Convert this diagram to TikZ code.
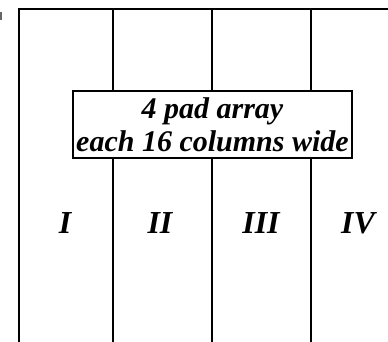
\documentclass[tikz,border=0pt]{standalone}
\usepackage{fontspec}
\setmainfont{Liberation Serif}
\begin{document}
\begin{tikzpicture}[x=1pt,y=-1pt,line width=2pt,
  lbl/.style={font=\bfseries\itshape\fontsize{32}{33}\selectfont, inner sep=0pt, anchor=base},
  infobox/.style={draw, fill=white, line width=2pt, minimum width=279pt, minimum height=67pt, inner sep=0pt, align=center, font=\bfseries\itshape\fontsize{30}{33}\selectfont}]
\useasboundingbox (0,0) rectangle (388,342);
\clip (0,0) rectangle (388,342);
% outer frame (open to the right and bottom)
\coordinate (tl) at (19,9);
\coordinate (tr) at (400,9);
\coordinate (bl) at (19,350);
\draw (bl) -- (tl) -- (tr);
% column dividers
\foreach \x/\n in {113/a,212/b,311/c}{
  \coordinate (t\n) at (\x,9);
  \coordinate (b\n) at (\x,350);
  \draw (t\n) -- (b\n);
}
% small mark at top left
\fill[black!60] (0,12) rectangle (2,20);
% central box
\node[infobox] (box) at (212.5,124.5) {4 pad array\\each 16 columns wide};
% column labels
\node[lbl] (c1) at (65,233) {I};
\node[lbl] (c2) at (160,233) {II};
\node[lbl] (c3) at (261,233) {III};
\node[lbl] (c4) at (358,233) {IV};
\end{tikzpicture}
\end{document}
